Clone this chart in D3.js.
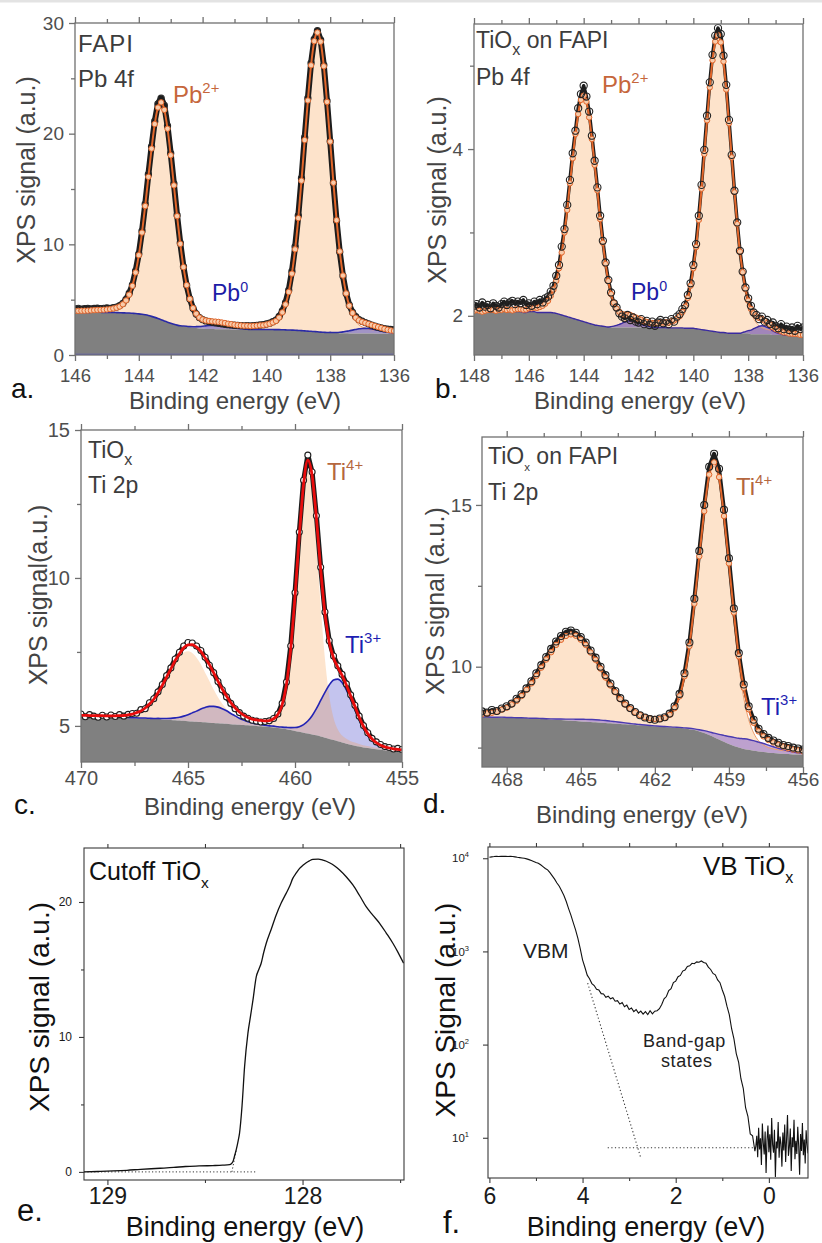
<!DOCTYPE html>
<html>
<head>
<meta charset="utf-8">
<title>XPS spectra of FAPI and TiOx</title>
<script src="https://cdn.jsdelivr.net/npm/d3@7/dist/d3.min.js"></script>
<style>
  html, body { margin: 0; padding: 0; background: #fff; }
  svg { display: block; }
</style>
</head>
<body>
<svg id="fig" width="822" height="1243" viewBox="0 0 822 1243"></svg>
<script>
// ---------- (a) FAPI, Pb 4f : grid 146.0 -> 136.0 eV, step 0.1 ----------
const fapiPbSignal = [4.17,4.21,4.15,4.19,4.22,4.16,4.20,4.24,4.18,4.21,4.25,4.22,4.28,4.33,4.47,
  4.66,5.02,5.58,6.33,7.59,9.14,11.20,13.62,16.31,18.83,21.12,22.70,
  23.22,22.55,20.71,18.22,15.48,12.63,10.12,7.98,6.30,5.07,4.22,3.71,3.38,3.20,
  3.08,3.02,2.95,2.91,2.86,2.82,2.78,2.74,2.72,2.69,2.68,2.66,2.64,2.65,2.63,2.66,2.68,2.71,2.74,2.80,
  2.88,3.01,3.16,3.48,3.98,4.73,5.86,7.55,9.78,12.60,15.98,19.66,23.21,26.38,28.55,29.30,28.47,26.20,22.95,19.31,
  15.55,12.12,9.30,7.14,5.55,4.50,3.86,3.46,3.20,3.05,2.93,2.82,2.70,2.60,2.51,2.44,2.38,2.34,2.31,2.29];
const fapiPbBackground = [3.85,3.86,3.86,3.85,3.85,3.86,3.87,3.87,3.86,3.85,
  3.85,3.84,3.84,3.83,3.82,3.81,3.80,3.79,3.77,3.75,
  3.72,3.68,3.63,3.57,3.49,3.40,3.30,3.19,3.08,2.97,
  2.87,2.78,2.70,2.64,2.59,2.55,2.50,2.46,2.43,2.40,
  2.38,2.36,2.35,2.34,2.33,2.33,2.32,2.32,2.32,2.31,
  2.31,2.31,2.30,2.30,2.30,2.30,2.30,2.30,2.30,2.30,
  2.30,2.30,2.30,2.29,2.29,2.28,2.27,2.26,2.25,2.24,
  2.22,2.20,2.18,2.16,2.14,2.12,2.10,2.07,2.05,2.03,
  2.01,1.99,1.98,1.97,1.96,1.96,1.95,1.95,1.95,1.95,
  1.94,1.94,1.94,1.94,1.93,1.93,1.93,1.93,1.92,1.92,1.92];
const fapiPb2 = [0.13,0.13,0.14,0.15,0.16,0.17,0.18,0.20,0.22,0.24,
  0.26,0.30,0.36,0.44,0.56,0.77,1.13,1.66,2.48,3.70,
  5.30,7.38,9.83,12.53,15.16,17.47,19.06,19.64,19.07,17.48,
  15.18,12.55,9.85,7.40,5.32,3.72,2.50,1.69,1.17,0.81,
  0.61,0.49,0.42,0.36,0.34,0.32,0.31,0.30,0.29,0.30,
  0.29,0.29,0.30,0.30,0.31,0.31,0.33,0.35,0.38,0.39,
  0.45,0.53,0.64,0.79,1.09,1.57,2.30,3.43,5.10,7.31,
  10.15,13.55,17.24,20.84,24.04,26.24,27.04,26.24,24.04,20.84,
  17.24,13.54,10.14,7.30,5.09,3.42,2.27,1.54,1.06,0.76,
  0.60,0.49,0.41,0.35,0.33,0.30,0.28,0.25,0.23,0.21,0.19];
const fapiPb0 = [0,0,0,0,0,0,0,0,0,0,
  0,0,0,0,0,0,0,0,0,0,
  0,0,0,0,0,0,0,0,0,0,
  0,0,0,0,
  0.03,0.044,0.065,0.09,0.13,0.175,0.22,0.27,0.31,0.34,0.35,0.34,0.31,0.27,0.22,0.175,0.13,0.09,0.065,0.044,0.03,
  0,0,0,0,0,0,0,0,0,0,
  0,0,0,0,0,0,0,0,0,0,
  0,0,0,0,0,
  0.03,0.04,0.06,0.09,0.13,0.18,0.235,0.30,0.36,0.42,0.46,0.47,0.46,0.42,0.36,0.30,0.235,0.18,0.13,0.09,0.06];

// ---------- (b) TiOx on FAPI, Pb 4f : grid 148.0 -> 136.0 eV, step 0.1 ----------
const tfPbSignal = [2.12,2.14,2.10,2.16,2.11,2.13,2.09,2.15,2.12,2.10,2.14,2.17,2.13,2.16,2.18,2.14,2.17,2.15,2.19,2.13,
  2.15,2.12,2.17,2.14,2.19,2.16,2.21,2.23,2.29,2.36,
  2.48,2.61,2.83,3.04,3.33,3.63,3.95,4.22,4.49,4.66,
  4.76,4.63,4.45,4.16,3.86,3.54,3.20,2.90,2.64,2.43,
  2.28,2.15,2.10,2.03,1.99,1.97,2.01,1.95,1.98,1.93,
  1.92,1.96,1.90,1.94,1.89,1.93,1.88,1.92,1.95,1.91,
  1.94,1.90,1.96,1.93,1.99,2.02,2.08,2.13,2.25,2.39,
  2.61,2.86,3.20,3.57,3.99,4.40,4.80,5.13,5.36,5.45,
  5.38,5.12,4.77,4.35,3.93,3.50,3.12,2.78,2.53,2.34,
  2.21,2.12,2.04,2.01,1.96,1.99,1.93,1.95,1.90,1.92,
  1.88,1.85,1.90,1.84,1.87,1.83,1.86,1.82,1.88,1.84,1.86];
const tfPbBackground = [2.05,2.06,2.05,2.04,2.05,2.06,2.05,2.05,2.04,2.05,
  2.05,2.06,2.05,2.05,2.04,2.05,2.05,2.05,2.04,2.04,
  2.05,2.05,2.05,2.04,2.04,2.04,2.04,2.04,2.04,2.035,
  2.03,2.02,2.01,2.00,1.99,1.98,1.97,1.96,1.95,1.94,
  1.93,1.92,1.91,1.90,1.89,1.885,1.88,1.875,1.87,1.865,
  1.86,1.86,1.86,1.86,1.86,1.86,1.86,1.86,1.86,1.86,
  1.86,1.86,1.86,1.86,1.86,1.86,1.86,1.86,1.86,1.86,
  1.86,1.855,1.855,1.855,1.855,1.855,1.855,1.85,1.85,1.85,
  1.85,1.845,1.84,1.835,1.83,1.825,1.82,1.815,1.81,1.805,
  1.80,1.80,1.795,1.79,1.79,1.79,1.79,1.79,1.79,1.79,
  1.79,1.78,1.78,1.78,1.78,1.78,1.78,1.78,1.78,1.77,
  1.77,1.77,1.77,1.77,1.77,1.76,1.76,1.76,1.76,1.75,1.75];
const tfPb2 = [0.01,0.01,0.01,0.01,0.01,0.01,0.02,0.02,0.02,0.02,
  0.02,0.02,0.02,0.025,0.025,0.027,0.03,0.03,0.033,0.035,
  0.04,0.04,0.045,0.055,0.065,0.08,0.105,0.14,0.20,0.28,
  0.39,0.55,0.75,1.00,1.28,1.61,1.92,2.22,2.47,2.65,
  2.71,2.65,2.47,2.22,1.92,1.62,1.28,1.00,0.75,0.55,
  0.39,0.28,0.20,0.15,0.11,0.09,0.075,0.07,0.06,0.055,
  0.055,0.055,0.05,0.05,0.05,0.05,0.055,0.055,0.06,0.06,
  0.06,0.065,0.08,0.09,0.11,0.14,0.19,0.26,0.365,0.51,
  0.72,0.98,1.31,1.69,2.11,2.52,2.92,3.25,3.48,3.56,
  3.48,3.25,2.92,2.52,2.11,1.69,1.31,0.98,0.72,0.51,
  0.36,0.255,0.185,0.135,0.10,0.08,0.065,0.055,0.05,0.045,
  0.04,0.037,0.033,0.031,0.029,0.027,0.025,0.024,0.022,0.021,0.02];
const tfPb0 = [0,0,0,0,0,0,0,0,0,0,
  0,0,0,0,0,0,0,0,0,0,
  0,0,0,0,0,0,0,0,0,0,
  0,0,0,0,0,0,0,0,0,0,
  0,0,0,0,0,0,0,0,0,0,
  0.01,0.017,0.026,0.038,0.05,0.065,0.075,0.08,0.075,0.065,0.05,0.038,0.026,0.017,0.01,
  0,0,0,0,0,0,0,0,0,0,
  0,0,0,0,0,0,0,0,0,0,
  0,0,0,0,0,0,0,0,0,0,
  0,0,0,
  0.012,0.02,0.032,0.048,0.065,0.08,0.095,0.10,0.095,0.08,0.065,0.048,0.032,0.02,0.012,
  0,0,0,0,0,0,0,0];

// ---------- (c) TiOx, Ti 2p : grid 470.0 -> 455.0 eV, step 0.2 ----------
const tiTiSignal = [5.40,5.31,5.38,5.33,5.29,5.36,5.30,5.37,5.32,5.38,
  5.33,5.39,5.42,5.43,5.55,5.58,5.78,5.92,6.15,6.40,
  6.70,6.96,7.26,7.49,7.70,7.82,7.80,7.70,7.55,7.32,
  7.05,6.80,6.50,6.22,5.98,5.76,5.58,5.45,5.33,5.26,
  5.19,5.16,5.13,5.15,5.17,5.25,5.40,5.76,6.48,7.70,
  9.50,11.55,13.30,14.15,13.58,12.10,10.36,8.85,7.88,7.36,
  7.03,6.74,6.42,6.05,5.70,5.33,5.01,4.77,4.58,4.46,
  4.37,4.30,4.27,4.22,4.24,4.20];
const tiTiBackground = [5.32,5.32,5.31,5.31,5.30,5.30,5.29,5.29,5.28,5.28,5.27,
  5.27,5.26,5.26,5.25,5.25,5.24,5.23,5.23,5.22,5.21,
  5.20,5.19,5.18,5.17,5.16,5.15,5.14,5.13,5.12,5.11,
  5.10,5.09,5.08,5.07,5.06,5.05,5.04,5.03,5.02,5.01,
  5.00,4.99,4.98,4.96,4.95,4.93,4.91,4.89,4.86,4.83,
  4.80,4.77,4.74,4.71,4.68,4.64,4.60,4.56,4.52,4.48,
  4.44,4.40,4.36,4.33,4.30,4.27,4.25,4.23,4.21,4.19,
  4.17,4.16,4.15,4.14,4.13];
const tiTi4 = [0.025,0.027,0.029,0.03,0.033,0.035,0.038,0.04,0.05,0.06,
  0.07,0.09,0.125,0.175,0.24,0.34,0.48,0.65,0.87,1.12,
  1.40,1.67,1.94,2.15,2.31,2.36,2.31,2.16,1.95,1.68,
  1.41,1.13,0.88,0.665,0.50,0.365,0.275,0.21,0.17,0.145,
  0.13,0.13,0.14,0.145,0.18,0.25,0.41,0.75,1.45,2.66,
  4.42,6.44,8.12,8.82,8.12,6.44,4.42,2.66,1.45,0.75,
  0.40,0.235,0.165,0.125,0.11,0.09,0.08,0.07,0.06,0.055,
  0.05,0.045,0.04,0.037,0.035,0.03];
const tiTi3 = [0.01,0.01,0.01,0.01,0.01,0.01,0.01,0.01,0.01,0.01,
  0.011,0.012,0.013,0.014,0.015,0.016,0.017,0.02,0.023,0.03,
  0.04,0.055,0.08,0.11,0.16,0.22,0.29,0.36,0.44,0.50,
  0.55,0.56,0.545,0.50,0.44,0.36,0.29,0.22,0.165,0.12,
  0.09,0.07,0.055,0.045,0.042,0.042,0.042,0.05,0.06,0.083,
  0.116,0.175,0.275,0.425,0.635,0.905,1.22,1.53,1.82,2.03,
  2.10,2.03,1.82,1.53,1.22,0.90,0.63,0.42,0.27,0.17,
  0.11,0.076,0.053,0.04,0.032,0.027];

// ---------- (d) TiOx on FAPI, Ti 2p : grid 469.0 -> 456.0 eV, step 0.2 ----------
const tfTiSignal = [8.62,8.58,8.66,8.63,8.71,8.78,8.86,9.01,9.15,9.33,
  9.55,9.80,10.05,10.30,10.55,10.78,10.95,11.08,11.12,11.05,
  10.92,10.75,10.50,10.28,10.00,9.74,9.48,9.25,9.03,8.86,
  8.72,8.60,8.50,8.43,8.38,8.36,8.40,8.44,8.55,8.78,
  9.16,9.80,10.75,12.10,13.58,15.00,16.18,16.58,16.12,14.85,
  13.35,11.80,10.42,9.45,8.78,8.36,8.08,7.92,7.80,7.72,
  7.65,7.58,7.55,7.50,7.47,7.44];
const tfTiBackground = [8.45,8.45,8.44,8.44,8.44,8.43,8.43,8.42,8.42,8.41,8.40,8.40,
  8.39,8.38,8.37,8.36,8.35,8.34,8.33,8.32,8.31,8.30,8.29,8.28,
  8.27,8.26,8.25,8.24,8.23,8.22,8.21,8.20,8.19,8.18,8.17,8.16,
  8.15,8.14,8.13,8.12,8.11,8.09,8.07,8.04,8.00,7.95,
  7.89,7.82,7.75,7.68,7.61,7.55,7.50,7.46,7.43,7.40,
  7.38,7.36,7.34,7.33,7.32,7.31,7.30,7.29,7.29,7.28];
const tfTi4 = [0.083,0.106,0.135,0.17,0.23,0.30,0.40,0.52,0.67,0.87,
  1.08,1.31,1.57,1.83,2.06,2.29,2.45,2.57,2.62,2.58,
  2.46,2.30,2.07,1.85,1.59,1.33,1.10,0.91,0.71,0.565,
  0.45,0.36,0.295,0.244,0.225,0.216,0.223,0.27,0.37,0.585,
  0.96,1.595,2.54,3.87,5.36,6.785,7.95,8.37,7.95,6.78,
  5.35,3.86,2.53,1.575,0.934,0.553,0.33,0.22,0.16,0.13,
  0.11,0.094,0.084,0.077,0.07,0.063];
const tfTi3 = [0,0,0,0,0.001,0.002,0.002,0.003,0.003,0.004,
  0.005,0.007,0.01,0.013,0.018,0.024,0.032,0.04,0.049,0.058,
  0.066,0.073,0.078,0.082,0.08,0.076,0.069,0.061,0.053,0.044,
  0.035,0.027,0.022,0.017,0.014,0.012,0.011,0.011,0.011,0.012,
  0.016,0.02,0.028,0.038,0.053,0.073,0.097,0.126,0.16,0.197,
  0.234,0.266,0.29,0.313,0.32,0.313,0.29,0.266,0.234,0.197,
  0.16,0.126,0.096,0.072,0.052,0.037];

// ---------- (e) secondary-electron cutoff of TiOx ----------
const cutoffEnergy = [129.12,129.05,128.97,128.90,128.83,128.73,128.66,128.60,128.53,128.46,
  128.41,128.374,128.365,128.357,128.350,128.340,128.330,128.323,128.31,128.297,
  128.280,128.266,128.254,128.237,128.224,128.212,128.200,128.186,128.16,128.135,
  128.11,128.084,128.065,128.050,128.032,128.015,127.998,127.981,127.965,127.947,
  127.92,127.896,127.878,127.862,127.835,127.810,127.775,127.742,127.708,127.674,
  127.640,127.605,127.571,127.537,127.51,127.482];
const cutoffSignal = [0.00,0.03,0.07,0.12,0.19,0.27,0.33,0.40,0.44,0.47,
  0.50,0.54,0.60,0.75,1.10,1.63,2.30,2.86,4.90,7.80,
  10.27,11.60,12.74,14.47,15.00,15.46,16.20,16.94,18.00,19.04,
  19.90,20.64,21.20,21.75,22.15,22.49,22.72,22.91,23.05,23.16,
  23.18,23.11,23.02,22.91,22.67,22.37,21.85,21.26,20.48,19.65,
  19.03,18.42,17.70,16.94,16.25,15.46];
const cutoffBaseEnergy = [129.12, 128.24];
const cutoffBaseSignal = [0, 0];
const cutoffEdgeEnergy = [128.362, 128.340];
const cutoffEdgeSignal = [0, 1.6];

// ---------- (f) valence band of TiOx (log scale) ----------
// 6.00 -> 0.30 eV, step 0.05
const vbSignal = [10230,10350,10420,10510,10440,10490,10460,10520,10430,10470,
  10420,10350,10240,10160,10070,9990,9840,9660,9440,9230,
  9020,8850,8510,8130,7760,7500,7000,6460,5960,5430,
  5010,4470,3980,3430,2880,2450,2040,1700,1380,1070,
  813,676,556,510,452,430,392,386,352,349,
  322,331,310,318,292,296,272,283,255,265,
  238,247,226,238,218,229,212,226,210,231,
  214,228,231,243,270,310,328,380,398,462,
  480,535,552,615,630,690,700,745,738,772,
  765,790,760,748,678,640,580,560,495,462,
  385,330,258,210,148,115,80,65,43,34,
  21,17,11,10.5,7.2];
// 0.28 -> -0.84 eV, step 0.02
const vbTailSignal = [8.1,10.5,6.2,12.8,7.5,9.9,5.1,14.2,8.8,6.6,
  11.7,4.2,9.4,13.5,7.0,10.9,5.8,16.3,8.4,6.9,
  12.2,3.8,9.1,7.7,14.8,6.1,10.3,8.6,4.9,11.4,
  7.3,13.9,5.5,9.7,17.5,6.4,8.0,12.6,4.4,10.1,
  7.9,15.6,5.9,9.3,6.7,13.1,8.2,4.0,11.0,7.2,
  14.4,6.5,9.6,5.3,12.0,8.5,6.8];
const vbmFitEnergy = [3.89, 2.75];
const vbmFitSignal = [457, 6.1];
const vbBaseEnergy = [3.46, 0.32];
const vbBaseSignal = [7.8, 7.8];

// ---------- drawing ----------
const FONT = "'Liberation Sans', Arial, Helvetica, sans-serif";
const svg = d3.select("#fig");
const defs = svg.append("defs");

svg.append("rect").attr("x", 0).attr("y", 0).attr("width", 822).attr("height", 2.5).attr("fill", "#e3e3e3");

function grid(start, step, n) {
  return d3.range(n).map(i => +(start - step * i).toFixed(3));
}

function clipFor(id, p) {
  defs.append("clipPath").attr("id", "clip-" + id).append("rect")
    .attr("x", p.left).attr("y", p.top).attr("width", p.right - p.left).attr("height", p.bottom - p.top);
  return `url(#clip-${id})`;
}

function richText(x, y, parts, size, color, extra) {
  const t = svg.append("text").attr("x", x).attr("y", y)
    .attr("font-family", FONT).attr("font-size", size).attr("fill", color);
  if (extra) extra(t);
  let shift = 0;
  parts.forEach(part => {
    const s = part.sup ? -size * 0.4 : part.sub ? size * 0.3 : 0;
    t.append("tspan").attr("dy", s - shift)
      .attr("font-size", (part.sup || part.sub) ? size * (part.scale || 0.62) : size)
      .text(part.t);
    shift = s;
  });
  return t;
}

function drawAxes(p, x, y) {
  const g = svg.append("g");
  const add = (axis, tx, ty) => g.append("g").attr("transform", `translate(${tx},${ty})`).call(axis);
  const bx = add(d3.axisBottom(x).tickValues(p.xMajor).tickSize(p.tickLen).tickPadding(p.xPad)
    .tickFormat(p.xFormat || (d => d)), 0, p.bottom);
  bx.selectAll(".tick text").attr("font-size", p.xFont);
  add(d3.axisBottom(x).tickValues(p.xMinor).tickSize(p.minorLen).tickFormat(""), 0, p.bottom);
  add(d3.axisTop(x).tickValues(p.xMajor).tickSize(p.topLen || p.tickLen).tickFormat(""), 0, p.top);
  add(d3.axisTop(x).tickValues(p.xMinor).tickSize(p.topLen || p.minorLen).tickFormat(""), 0, p.top);
  const ly = add(d3.axisLeft(y).tickValues(p.yMajor).tickSize(p.tickLen).tickPadding(p.yPad)
    .tickFormat(p.yFormat === null ? "" : (p.yFormat || (d => d))), p.left, 0);
  ly.selectAll(".tick text").attr("font-size", p.yFont);
  if (p.yMinor) add(d3.axisLeft(y).tickValues(p.yMinor).tickSize(p.minorLen).tickFormat(""), p.left, 0);
  g.selectAll(".domain").remove();
  g.selectAll(".tick line").attr("stroke", p.axisColor).attr("stroke-width", p.axisWidth);
  g.selectAll(".tick text").attr("fill", p.labelColor).attr("font-family", FONT);
  g.append("rect").attr("x", p.left).attr("y", p.top)
    .attr("width", p.right - p.left).attr("height", p.bottom - p.top)
    .attr("fill", "none").attr("stroke", p.axisColor).attr("stroke-width", p.axisWidth);
  return { g, ly };
}

function drawXps(p) {
  const x = d3.scaleLinear().domain(p.xDomain).range([p.left, p.right]);
  const y = d3.scaleLinear().domain(p.yDomain).range([p.bottom, p.top]);
  const plot = svg.append("g").attr("clip-path", clipFor(p.id, p));
  const E = p.energy;
  const curve = d3.curveMonotoneX;

  // fitted components, each filled down to the background
  p.components.forEach(c => {
    const pts = E.map((e, i) => ({ e, lo: p.background[i], hi: p.background[i] + c.values[i] }));
    plot.append("path").datum(pts)
      .attr("d", d3.area().x(d => x(d.e)).y0(d => y(d.lo)).y1(d => y(d.hi)).curve(curve))
      .attr("fill", c.fill);
  });
  // background
  plot.append("path").datum(E.map((e, i) => ({ e, v: p.background[i] })))
    .attr("d", d3.area().x(d => x(d.e)).y0(p.bottom + 2).y1(d => y(d.v)).curve(curve))
    .attr("fill", "#808080");
  if (p.zeroLine) {
    plot.append("line").attr("x1", p.left).attr("x2", p.right)
      .attr("y1", y(p.yDomain[0])).attr("y2", y(p.yDomain[0]))
      .attr("stroke", p.zeroLine).attr("stroke-width", 2.5);
  }
  // component outlines
  p.components.forEach(c => {
    if (!c.line) return;
    plot.append("path").datum(E.map((e, i) => ({ e, v: p.background[i] + c.values[i] })))
      .attr("d", d3.line().x(d => x(d.e)).y(d => y(d.v)).curve(curve))
      .attr("fill", "none").attr("stroke", c.line).attr("stroke-width", c.lineWidth);
  });

  const measured = E.map((e, i) => ({ e, v: p.data[i] }));
  const envelope = E.map((e, i) => ({ e, v: p.background[i] + d3.sum(p.components, c => c.values[i]) }));

  // dark band under the measured points
  plot.append("path").datum(measured)
    .attr("d", d3.line().x(d => x(d.e)).y(d => y(d.v)))
    .attr("fill", "none").attr("stroke", "#1c1c1c").attr("stroke-width", p.haloWidth)
    .attr("stroke-linejoin", "round").attr("stroke-linecap", "round");

  const drawData = () => {
    plot.append("g").selectAll("circle").data(measured).join("circle")
      .attr("cx", d => x(d.e)).attr("cy", d => y(d.v)).attr("r", p.circleR)
      .attr("fill", p.circleFill).attr("stroke", p.circleStroke).attr("stroke-width", 1.1);
  };
  const drawFit = () => {
    plot.append("path").datum(envelope)
      .attr("d", d3.line().x(d => x(d.e)).y(d => y(d.v)).curve(curve))
      .attr("fill", "none").attr("stroke", p.envColor).attr("stroke-width", p.envWidth);
    if (p.envMarkers) {
      plot.append("g").selectAll("circle").data(envelope).join("circle")
        .attr("cx", d => x(d.e)).attr("cy", d => y(d.v)).attr("r", 2.7)
        .attr("fill", "#f8cbaa").attr("stroke", p.envColor).attr("stroke-width", 1);
    }
  };
  if (p.dataFirst) { drawData(); drawFit(); } else { drawFit(); drawData(); }

  drawAxes(p.axes, x, y);
  return { x, y };
}

const axisGrey = {
  tickLen: 6, minorLen: 4, axisColor: "#707070", axisWidth: 1.3, labelColor: "#4e4e4e"
};

// (a)
drawXps({
  id: "a", energy: grid(146, 0.1, fapiPbSignal.length),
  data: fapiPbSignal, background: fapiPbBackground,
  components: [
    { values: fapiPb2, fill: "#fde3cb", line: "#ee9d6c", lineWidth: 1 },
    { values: fapiPb0, fill: "rgba(50,50,190,0.45)", line: "#2a2aa6", lineWidth: 1.6 }
  ],
  left: 75, right: 394, top: 23, bottom: 355, xDomain: [146, 136], yDomain: [0, 30],
  zeroLine: "#5a5ab8",
  haloWidth: 6, circleR: 3.1, circleFill: "none", circleStroke: "#262626",
  envColor: "#e2662a", envWidth: 2, envMarkers: true, dataFirst: true,
  axes: Object.assign({}, axisGrey, {
    left: 75, right: 394, top: 23, bottom: 355,
    xMajor: [146, 144, 142, 140, 138, 136], xMinor: [145, 143, 141, 139, 137],
    yMajor: [0, 10, 20, 30], yMinor: [5, 15, 25], xPad: 8, yPad: 5, xFont: 18.5, yFont: 19
  })
});

// (b)
drawXps({
  id: "b", energy: grid(148, 0.1, tfPbSignal.length),
  data: tfPbSignal, background: tfPbBackground,
  components: [
    { values: tfPb2, fill: "#fde3cb", line: "#ee9d6c", lineWidth: 1 },
    { values: tfPb0, fill: "rgba(70,40,170,0.5)", line: "#3a2aa0", lineWidth: 1.4 }
  ],
  left: 474, right: 803, top: 24, bottom: 355, xDomain: [148, 136], yDomain: [1.53, 5.5],
  haloWidth: 3.5, circleR: 3.6, circleFill: "none", circleStroke: "#222",
  envColor: "#e2662a", envWidth: 2, envMarkers: true, dataFirst: false,
  axes: Object.assign({}, axisGrey, {
    left: 474, right: 803, top: 24, bottom: 355,
    xMajor: [148, 146, 144, 142, 140, 138, 136], xMinor: [147, 145, 143, 141, 139, 137],
    yMajor: [2, 4], yMinor: [3, 5], xPad: 8, yPad: 5, xFont: 18.5, yFont: 19
  })
});

// (c)
drawXps({
  id: "c", energy: grid(470, 0.2, tiTiSignal.length),
  data: tiTiSignal, background: tiTiBackground,
  components: [
    { values: tiTi3, fill: "rgba(60,60,200,0.3)", line: "#2424b4", lineWidth: 1.6 },
    { values: tiTi4, fill: "rgba(247,147,55,0.25)" }
  ],
  left: 81, right: 402, top: 430, bottom: 762, xDomain: [470, 455], yDomain: [3.78, 15],
  haloWidth: 5, circleR: 3, circleFill: "#fff", circleStroke: "#1e1e1e",
  envColor: "#e80c0c", envWidth: 2.8, envMarkers: false, dataFirst: true,
  axes: Object.assign({}, axisGrey, {
    left: 81, right: 402, top: 430, bottom: 762,
    xMajor: [470, 465, 460, 455], xMinor: [467.5, 462.5, 457.5],
    yMajor: [5, 10, 15], yMinor: [7.5, 12.5], xPad: 3, yPad: 5, xFont: 20, yFont: 20
  })
});

// (d)
drawXps({
  id: "d", energy: grid(469, 0.2, tfTiSignal.length),
  data: tfTiSignal, background: tfTiBackground,
  components: [
    { values: tfTi4, fill: "#fde3cb", line: "#ee9d6c", lineWidth: 1 },
    { values: tfTi3, fill: "rgba(110,80,210,0.45)", line: "#4a3ab0", lineWidth: 1.4 }
  ],
  left: 482, right: 803, top: 437, bottom: 767, xDomain: [469, 456], yDomain: [6.9, 17.1],
  haloWidth: 4, circleR: 3.5, circleFill: "none", circleStroke: "#222",
  envColor: "#e2662a", envWidth: 2, envMarkers: true, dataFirst: false,
  axes: Object.assign({}, axisGrey, {
    left: 482, right: 803, top: 437, bottom: 767,
    xMajor: [468, 465, 462, 459, 456], xMinor: [466.5, 463.5, 460.5, 457.5],
    yMajor: [10, 15], yMinor: [7.5, 12.5], xPad: 0, yPad: 4, xFont: 19, yFont: 19
  })
});

// (e) cutoff
(function () {
  const p = { left: 84, right: 404, top: 848, bottom: 1180 };
  const x = d3.scaleLinear().domain([129.12, 127.48]).range([p.left, p.right]);
  const y = d3.scaleLinear().domain([-0.6, 24]).range([p.bottom, p.top]);
  const plot = svg.append("g").attr("clip-path", clipFor("e", p));
  const dotted = (E, I) => plot.append("path").datum(E.map((e, i) => [x(e), y(I[i])]))
    .attr("d", d3.line()).attr("fill", "none").attr("stroke", "#333")
    .attr("stroke-width", 1).attr("stroke-dasharray", "1.2,2.2");
  dotted(cutoffBaseEnergy, cutoffBaseSignal);
  dotted(cutoffEdgeEnergy, cutoffEdgeSignal);
  plot.append("path").datum(cutoffEnergy.map((e, i) => [x(e), y(cutoffSignal[i])]))
    .attr("d", d3.line().curve(d3.curveMonotoneX)).attr("fill", "none").attr("stroke", "#111").attr("stroke-width", 1.3);
  drawAxes(Object.assign({}, p, {
    tickLen: 5, minorLen: 3, topLen: 4, axisColor: "#3a3a3a", axisWidth: 1.1, labelColor: "#1a1a1a",
    xMajor: [129, 128], xMinor: [128.5, 127.5], yMajor: [0, 10, 20], yMinor: [5, 15],
    xPad: 3, yPad: 7, xFont: 23, yFont: 12
  }), x, y);
})();

// (f) valence band
(function () {
  const p = { left: 488, right: 808, top: 847, bottom: 1178 };
  const x = d3.scaleLinear().domain([6.03, -0.84]).range([p.left, p.right]);
  const y = d3.scaleLog().domain([3.7, 13200]).range([p.bottom, p.top]);
  const plot = svg.append("g").attr("clip-path", clipFor("f", p));
  const mainE = grid(6.0, 0.05, vbSignal.length);
  const tailE = grid(0.28, 0.02, vbTailSignal.length);
  const pts = mainE.map((e, i) => [e, vbSignal[i]]).concat(tailE.map((e, i) => [e, vbTailSignal[i]]));
  const dotted = (E, I) => plot.append("path").datum(E.map((e, i) => [x(e), y(I[i])]))
    .attr("d", d3.line()).attr("fill", "none").attr("stroke", "#333")
    .attr("stroke-width", 1.1).attr("stroke-dasharray", "1.2,2.4");
  dotted(vbmFitEnergy, vbmFitSignal);
  dotted(vbBaseEnergy, vbBaseSignal);
  plot.append("path").datum(pts)
    .attr("d", d3.line().x(d => x(d[0])).y(d => y(d[1])))
    .attr("fill", "none").attr("stroke", "#111").attr("stroke-width", 1.1);
  const ax = drawAxes(Object.assign({}, p, {
    tickLen: 5, minorLen: 3, topLen: 4, axisColor: "#3a3a3a", axisWidth: 1.1, labelColor: "#1a1a1a",
    xMajor: [6, 4, 2, 0], xMinor: [5, 3, 1], yMajor: [10, 100, 1000, 10000], yMinor: null,
    yFormat: null, xPad: 5, yPad: 6, xFont: 23, yFont: 11
  }), x, y);
  ax.ly.selectAll(".tick").each(function (d) {
    const t = d3.select(this).append("text").attr("x", -19).attr("dy", "0.32em")
      .attr("text-anchor", "end").attr("font-family", FONT).attr("font-size", 11.5).attr("fill", "#1a1a1a");
    t.append("tspan").text("10");
    t.append("tspan").attr("dy", -5).attr("font-size", 7.5).text(Math.round(Math.log10(d)));
  });
})();

// ---------- titles and annotations ----------
const inkGrey = "#3c3c3c";
const axisTitle = (x, y, s, size, color, rotate) => {
  const t = svg.append("text").attr("font-family", FONT).attr("font-size", size).attr("fill", color)
    .attr("text-anchor", "middle").text(s);
  if (rotate) t.attr("transform", `translate(${x},${y}) rotate(-90)`);
  else t.attr("x", x).attr("y", y);
};
axisTitle(235, 409, "Binding energy (eV)", 24, "#444");
axisTitle(640, 409, "Binding energy (eV)", 24, "#444");
axisTitle(250, 815, "Binding energy (eV)", 24, "#444");
axisTitle(642, 823, "Binding energy (eV)", 24, "#444");
axisTitle(245, 1236, "Binding energy (eV)", 27, "#111");
axisTitle(646, 1236, "Binding energy (eV)", 27, "#111");
axisTitle(35, 170, "XPS signal (a.u.)", 25, "#444", true);
axisTitle(446, 190, "XPS signal (a.u.)", 25, "#444", true);
axisTitle(47, 595, "XPS signal(a.u.)", 25, "#444", true);
axisTitle(444, 601, "XPS signal (a.u.)", 25, "#444", true);
axisTitle(49, 1007, "XPS signal (a.u.)", 28, "#111", true);
axisTitle(455, 1010, "XPS Signal (a.u.)", 28, "#111", true);

const panelTag = (x, y, s, size) => svg.append("text").attr("x", x).attr("y", y)
  .attr("font-family", FONT).attr("font-size", size).attr("fill", "#111").text(s);
panelTag(11, 398, "a.", 28);
panelTag(435, 398, "b.", 28);
panelTag(14, 814, "c.", 28);
panelTag(423, 813, "d.", 28);
panelTag(17, 1221, "e.", 31);
panelTag(443, 1233, "f.", 31);

richText(78, 52, [{ t: "FAPI" }], 24, inkGrey, t => t.attr("letter-spacing", 1));
richText(78, 87, [{ t: "Pb 4f" }], 24, inkGrey);
richText(173, 103, [{ t: "Pb" }, { t: "2+", sup: true }], 24, "#c6663b");
richText(212, 301, [{ t: "Pb" }, { t: "0", sup: true }], 23, "#1c1ca6");

richText(476, 48, [{ t: "TiO" }, { t: "x", sub: true, scale: 0.7 }, { t: " on FAPI" }], 23, inkGrey);
richText(476, 85, [{ t: "Pb 4f" }], 23, inkGrey);
richText(602, 93, [{ t: "Pb" }, { t: "2+", sup: true }], 24, "#c6663b");
richText(631, 300, [{ t: "Pb" }, { t: "0", sup: true }], 23, "#1c1ca6");

richText(88, 458, [{ t: "TiO" }, { t: "x", sub: true, scale: 0.7 }], 23, inkGrey);
richText(88, 493, [{ t: "Ti 2p" }], 23, inkGrey);
richText(327, 480, [{ t: "Ti" }, { t: "4+", sup: true }], 24, "#b5673f");
richText(345, 653, [{ t: "Ti" }, { t: "3+", sup: true }], 24, "#1e1eb2");

richText(488, 464, [{ t: "TiO" }, { t: "x", sub: true, scale: 0.5 }, { t: " on FAPI" }], 23, inkGrey);
richText(488, 500, [{ t: "Ti 2p" }], 23, inkGrey);
richText(736, 495, [{ t: "Ti" }, { t: "4+", sup: true }], 24, "#b5673f");
richText(761, 715, [{ t: "Ti" }, { t: "3+", sup: true }], 24, "#1e1eb2");

richText(89, 880, [{ t: "Cutoff TiO" }, { t: "x", sub: true, scale: 0.62 }], 25, "#111");
richText(703, 875, [{ t: "VB TiO" }, { t: "x", sub: true, scale: 0.62 }], 26, "#111");
richText(523, 958, [{ t: "VBM" }], 21, "#222");
richText(643, 1047, [{ t: "Band-gap" }], 18, "#222", t => t.attr("letter-spacing", 0.6));
richText(661, 1067, [{ t: "states" }], 18, "#222", t => t.attr("letter-spacing", 0.6));
</script>
</body>
</html>
